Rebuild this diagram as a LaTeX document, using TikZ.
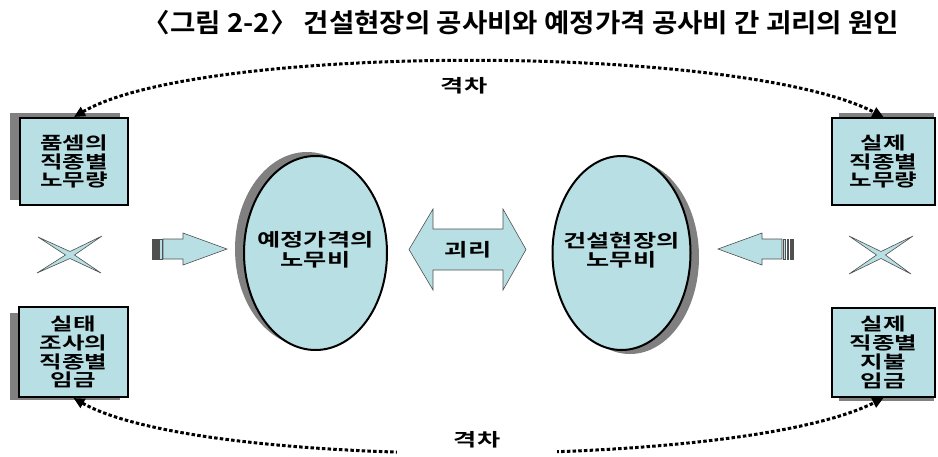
\documentclass[tikz,border=0pt]{standalone}
\usepackage{fontspec}
\usetikzlibrary{shapes.geometric,arrows.meta}
\newfontfamily\bodyfnt[FakeStretch=1.4]{Noto Sans CJK KR Bold}
\newfontfamily\titlefnt[FakeStretch=1.06]{Noto Sans CJK KR Bold}
\definecolor{lblue}{RGB}{184,223,227}
\definecolor{shgray}{RGB}{128,128,128}
\definecolor{edgegray}{RGB}{80,80,80}
\begin{document}
\begin{tikzpicture}[x=1pt,y=-1pt,
  boxn/.style={draw=black, line width=2pt, fill=lblue, inner sep=0pt, align=center,
    font=\bodyfnt\fontsize{17.5}{18.8}\selectfont},
  shad/.style={fill=shgray, inner sep=0pt},
  ell/.style={ellipse, draw=black, line width=2pt, fill=lblue, inner sep=0pt},
  ellshad/.style={ellipse, fill=shgray, inner sep=0pt},
  elltext/.style={inner sep=0pt, align=center, font=\bodyfnt\fontsize{18}{19.5}\selectfont},
  lbshape/.style={fill=lblue, draw=edgegray, line width=0.6pt},
  stripe/.style={fill=edgegray, draw=edgegray, line width=0.4pt},
  dotline/.style={line width=3pt, dash pattern=on 3.5pt off 2.2pt,
    {Triangle[length=11pt,width=10pt]}-{Triangle[length=11pt,width=10pt]}},
  lab/.style={font=\bodyfnt\fontsize{18}{19}\selectfont, inner sep=0pt}
]
\useasboundingbox (0,0) rectangle (938,456);

% title
\node[font=\titlefnt\fontsize{26}{30}\selectfont, inner sep=0pt] (title) at (521,23)
  {〈그림 2-2〉 건설현장의 공사비와 예정가격 공사비 간 괴리의 원인};

% shadows of boxes
\node[shad, minimum width=110pt, minimum height=87pt] (s1) at (65,156.5) {};
\node[shad, minimum width=110pt, minimum height=87pt] (s3) at (65,356.5) {};
\node[shad, minimum width=95pt, minimum height=87pt] (s2) at (886.5,156.5) {};
\node[shad, minimum width=95pt, minimum height=89pt] (s4) at (886.5,356.5) {};

% boxes
\node[boxn, minimum width=108pt, minimum height=87pt] (b1) at (74,161.5) {품셈의\\직종별\\노무량};
\node[boxn, minimum width=109pt, minimum height=90pt] (b3) at (73.5,352) {실태\\조사의\\직종별\\임금};
\node[boxn, minimum width=103pt, minimum height=87pt] (b2) at (883.5,161.5) {실제\\직종별\\노무량};
\node[boxn, minimum width=103pt, minimum height=89pt] (b4) at (883.5,352.5) {실제\\직종별\\지불\\임금};

% ellipses
\node[ellshad, minimum width=144pt, minimum height=194pt] (se1) at (307,249) {};
\node[ell, minimum width=143pt, minimum height=194pt] (e1) at (315.5,253) {};
\node[elltext] (t1) at (315.5,250) {예정가격의\\노무비};
\node[ellshad, minimum width=138pt, minimum height=194pt] (se2) at (630,257) {};
\node[ell, minimum width=138pt, minimum height=194pt] (e2) at (621.5,253) {};
\node[elltext] (t2) at (621.5,250) {건설현장의\\노무비};

% crosses
\draw[lbshape] (38,237) -- (70,251.5) -- (102,236) -- (74.5,255) -- (101,273) -- (70,258.5) -- (37,273) -- (65.5,255) -- cycle;
\draw[lbshape] (849,236) -- (881,251.5) -- (913,236) -- (885.5,255) -- (911,274) -- (881,258.5) -- (849,274) -- (876.5,255) -- cycle;

% left striped arrow
\draw[stripe] (152,239) rectangle (155,259);
\draw[stripe] (156.5,239) rectangle (158,259);
\draw[fill=lblue, draw=edgegray, line width=0.4pt] (159.5,239) rectangle (162,259);
\draw[lbshape] (163,239) -- (183,239) -- (183,233) -- (227,249) -- (183,265) -- (183,259) -- (163,259) -- cycle;

% right striped arrow
\draw[stripe] (793,239) rectangle (790,259);
\draw[stripe] (788.5,239) rectangle (787,259);
\draw[fill=lblue, draw=edgegray, line width=0.4pt] (785.5,239) rectangle (783,259);
\draw[lbshape] (782,239) -- (762,239) -- (762,233) -- (718,249) -- (762,265) -- (762,259) -- (782,259) -- cycle;

% double arrow
\draw[lbshape] (409,249.5) -- (433,209) -- (433,229) -- (503,229) -- (503,209) -- (526,249.5)
  -- (503,290) -- (503,270) -- (433,270) -- (433,290) -- cycle;
\node[lab] (gl) at (468,250) {괴리};

% dotted arcs
\draw[dotline] (b1.north) .. controls (200,43) and (740,43) .. (b2.north);
\node[lab] (gap1) at (464,86) {격차};
\draw[dotline] (b3.south) .. controls (200,470) and (740,470) .. (b4.south);
\node[lab, fill=white, minimum width=160pt, minimum height=30pt] (gap2) at (477,440) {격차};
\end{tikzpicture}
\end{document}
